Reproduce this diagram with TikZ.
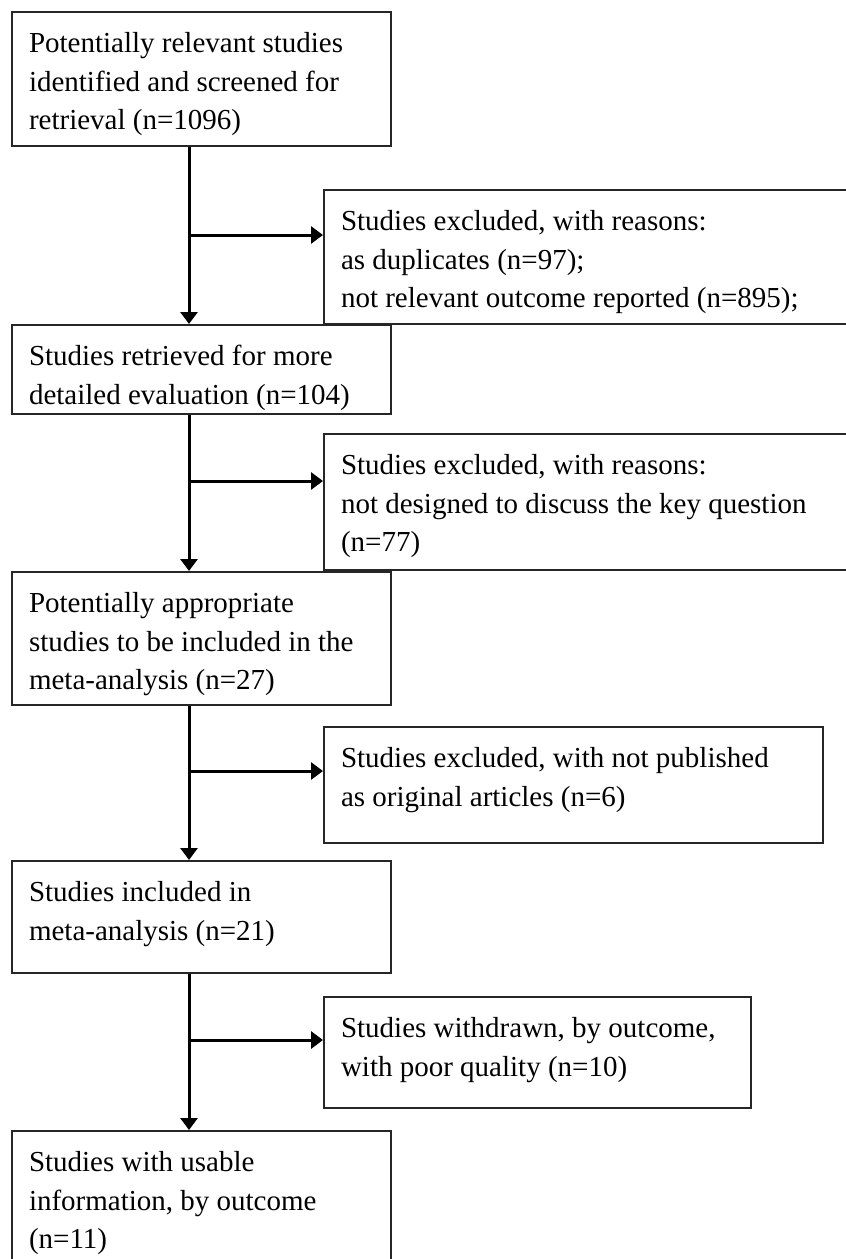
\documentclass[tikz,border=0pt]{standalone}
\usepackage{fontspec}
\setmainfont{Liberation Serif}
\usetikzlibrary{arrows.meta}
\usetikzlibrary{calc}

\begin{document}
\begin{tikzpicture}[x=0.5pt,y=-0.5pt]
\tikzset{
stage/.style = {draw=black!85,line width=1pt,anchor=north west,inner xsep=8.5pt,inner ysep=7pt,font=\fontsize{14.5}{19.2}\selectfont},
flow/.style = {line width=1.5pt,-{Triangle[length=6pt,width=8.5pt]}},
}
    %
\useasboundingbox (0,0) rectangle (846,1259);
\clip (0,0) rectangle (846,1259);
\coordinate (spine) at (189,0);

% Main column.
\node[stage] (s1) at (11,11) {\parbox[t][53pt][t]{172.5pt}{\strut Potentially relevant studies\\identified and screened for\\retrieval (n=1096)}};
\node[stage] (s2) at (11,324) {\parbox[t][30.5pt][t]{172.5pt}{\strut Studies retrieved for more\\detailed evaluation (n=104)}};
\node[stage] (s3) at (11,571) {\parbox[t][52.5pt][t]{172.5pt}{\strut Potentially appropriate\\studies to be included in the\\meta-analysis (n=27)}};
\node[stage] (s4) at (11,860) {\parbox[t][42pt][t]{172.5pt}{\strut Studies included in\\meta-analysis (n=21)}};
\node[stage] (s5) at (11,1130) {\parbox[t][71pt][t]{172.5pt}{\strut Studies with usable\\information, by outcome\\(n=11)}};

% Exclusions on the right.
\node[stage] (x1) at (323,189) {\parbox[t][53pt][t]{271.5pt}{\strut Studies excluded, with reasons:\\as duplicates (n=97);\\not relevant outcome reported (n=895);}};
\node[stage] (x2) at (323,433) {\parbox[t][54pt][t]{271.5pt}{\strut Studies excluded, with reasons:\\not designed to discuss the key question\\(n=77)}};
\node[stage] (x3) at (323,726) {\parbox[t][44pt][t]{232.5pt}{\strut Studies excluded, with not published\\as original articles (n=6)}};
\node[stage] (x4) at (323,996) {\parbox[t][41.5pt][t]{196.5pt}{\strut Studies withdrawn, by outcome,\\with poor quality (n=10)}};

\coordinate (k1) at ($(x1.north west)+(0,46)$);
\coordinate (k2) at ($(x2.north west)+(0,48)$);
\coordinate (k3) at ($(x3.north west)+(0,45)$);
\coordinate (k4) at ($(x4.north west)+(0,44)$);

% Arrows down the column and out to the side.
\draw[flow] (s1.south -| spine) -- (s2.north -| spine);
\draw[flow] (s2.south -| spine) -- (s3.north -| spine);
\draw[flow] (s3.south -| spine) -- (s4.north -| spine);
\draw[flow] (s4.south -| spine) -- (s5.north -| spine);
\draw[flow] (k1 -| spine) -- (k1);
\draw[flow] (k2 -| spine) -- (k2);
\draw[flow] (k3 -| spine) -- (k3);
\draw[flow] (k4 -| spine) -- (k4);
    %
\end{tikzpicture}
\end{document}
